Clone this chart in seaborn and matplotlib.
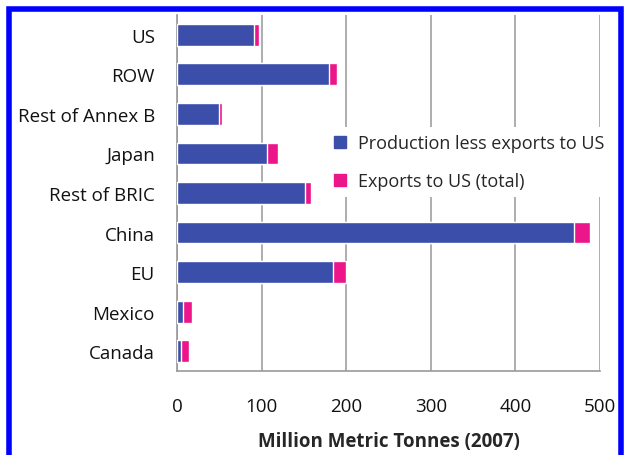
import numpy as np
import pandas as pd
import seaborn as sns
import matplotlib.pyplot as plt
from matplotlib.patches import Rectangle
from matplotlib.lines import Line2D

# Data (million metric tonnes, 2007)
regions = ["US", "ROW", "Rest of Annex B", "Japan", "Rest of BRIC",
           "China", "EU", "Mexico", "Canada"]
production_less_exports = [91, 180, 50, 106, 151, 469, 184, 7, 5]
exports_to_us = [6, 9, 3, 13, 7, 19, 16, 11, 9]

df = pd.DataFrame({"region": regions,
                   "prod": production_less_exports,
                   "exp": exports_to_us})
df["total"] = df["prod"] + df["exp"]

blue = "#3a4eaa"
pink = "#ec1589"

sns.set_style("white")
plt.rcParams["font.family"] = ["Open Sans", "DejaVu Sans"]

fig = plt.figure(figsize=(6.24, 4.56), dpi=100)
ax = fig.add_axes([177 / 624, 1 - 372 / 456, (600 - 177) / 624, (372 - 16) / 456])

# stacked: total in pink underneath, production in blue on top
sns.barplot(data=df, y="region", x="total", color=pink, width=0.55,
            saturation=1, ax=ax, zorder=3)
sns.barplot(data=df, y="region", x="prod", color=blue, width=0.55,
            saturation=1, ax=ax, zorder=4)

ax.set_xlim(0, 500)
ax.set_ylim(len(regions) - 0.5, -0.5)
ax.set_xticks([0, 100, 200, 300, 400, 500])
ax.grid(axis="x", color="#a0a0a0", linewidth=1.2, zorder=0)
ax.grid(axis="y", visible=False)
for s in ["top", "right"]:
    ax.spines[s].set_visible(False)
ax.spines["left"].set_color("#999999")
ax.spines["bottom"].set_color("#999999")
ax.spines["left"].set_linewidth(1.2)
ax.spines["bottom"].set_linewidth(1.2)

ax.tick_params(axis="y", which="major", length=0, pad=16, labelsize=13.5, colors="#111111")
ax.set_yticks(np.arange(-0.5, len(regions), 1), minor=True)
ax.tick_params(axis="y", which="minor", length=7, color="#999999", width=1)
ax.tick_params(axis="x", which="major", length=0, pad=19, labelsize=13.5, colors="#111111")

ax.set_ylabel("")
ax.set_xlabel("Million Metric Tonnes (2007)", fontsize=13.5, fontweight="bold",
              labelpad=11)

handles = [Line2D([], [], marker="s", linestyle="", color=blue, markersize=8),
           Line2D([], [], marker="s", linestyle="", color=pink, markersize=8)]
ax.legend(handles, ["Production less exports to US", "Exports to US (total)"],
          loc="upper left", bbox_to_anchor=(0.342, 0.686), frameon=True,
          facecolor="white", edgecolor="none", framealpha=1,
          fontsize=13, handlelength=1.2, handletextpad=0.4,
          labelspacing=1.1, borderaxespad=0)

# blue frame around the figure (cropped at the bottom in the source)
fig.patches.append(Rectangle((9 / 624, -0.05), (621 - 9) / 624, 1 - 10 / 456 + 0.05,
                             transform=fig.transFigure, fill=False,
                             edgecolor="#0000ff", linewidth=4, zorder=10))

fig.savefig("out.png", dpi=100)
